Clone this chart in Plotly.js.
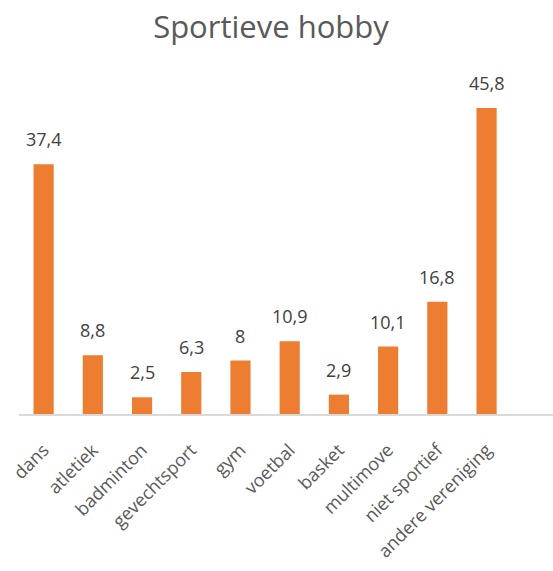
<!DOCTYPE html>
<html>
<head>
<meta charset="utf-8">
<script src="https://cdn.plot.ly/plotly-3.0.1.min.js"></script>
<style>
  html, body { margin: 0; padding: 0; background: #fff; }
  #plot { width: 553px; height: 571px; }
</style>
</head>
<body>
<div id="plot"></div>
<script>
// categories and values
let hobbies = ['dans', 'atletiek', 'badminton', 'gevechtsport', 'gym', 'voetbal',
               'basket', 'multimove', 'niet sportief', 'andere vereniging']
let percentages = [37.4, 8.8, 2.5, 6.3, 8, 10.9, 2.9, 10.1, 16.8, 45.8]
// labels as shown, with a decimal comma
let valueLabels = ['37,4', '8,8', '2,5', '6,3', '8', '10,9', '2,9', '10,1', '16,8', '45,8']

let orange = '#ED7D31'
let font = 'Open Sans, Liberation Sans, sans-serif'

let trace = {
    x: hobbies,
    y: percentages,
    type: 'bar',
    width: 0.41,
    marker: { color: orange },
    hoverinfo: 'none'
}

// value labels sit above each bar
let labels = []
for (var i = 0; i < hobbies.length; i++) {
    labels.push({
        x: hobbies[i],
        y: percentages[i],
        text: valueLabels[i],
        showarrow: false,
        yanchor: 'middle',
        yshift: 25,
        font: { family: font, size: 18, color: '#404040' }
    })
}

let layout = {
    title: {
        text: 'Sportieve hobby',
        font: { family: font, size: 31, color: '#595959' },
        x: 0.49,
        xanchor: 'center',
        y: 0.952,
        yanchor: 'middle'
    },
    showlegend: false,
    width: 553,
    height: 571,
    paper_bgcolor: '#ffffff',
    plot_bgcolor: '#ffffff',
    margin: { l: 19, r: 0, t: 80, b: 157, pad: 0 },
    xaxis: {
        type: 'category',
        range: [-0.5, 10.35],
        tickangle: -45,
        ticks: 'outside',
        ticklen: 17,
        tickcolor: 'rgba(0,0,0,0)',
        showline: true,
        linecolor: '#d9d9d9',
        linewidth: 1.5,
        showgrid: false,
        tickfont: { family: font, size: 18, color: '#595959' }
    },
    yaxis: {
        range: [0, 50],
        visible: false,
        showgrid: false,
        zeroline: false
    },
    annotations: labels
}

Plotly.newPlot('plot', [trace], layout, { displayModeBar: false, staticPlot: true })
</script>
</body>
</html>
